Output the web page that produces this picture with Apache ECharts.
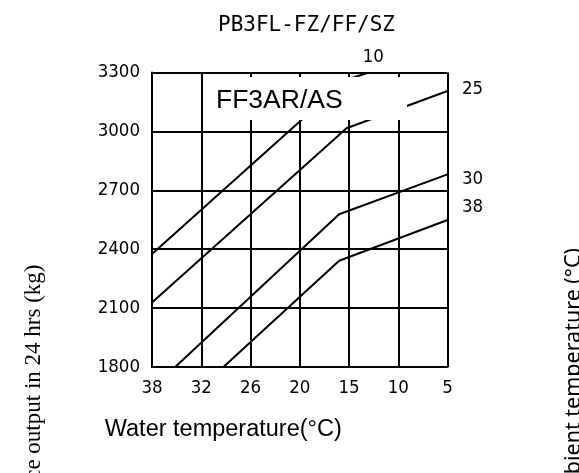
<!DOCTYPE html>
<html>
<head>
<meta charset="utf-8">
<script src="https://cdn.jsdelivr.net/npm/echarts@6/dist/echarts.min.js"></script>
<style>
  html, body { margin: 0; padding: 0; background: #fff; }
  #chart { width: 579px; height: 473px; }
</style>
</head>
<body>
<div id="chart"></div>
<script>
// x positions are grid columns: 0 = 38°C ... 6 = 5°C (scale is not uniform)
const waterTicks = ['38', '32', '26', '20', '15', '10', '5']

// ambient temperature curves: [column position, ice kg / 24h]
const amb10 = [[0, 2376], [3.94, 3262], [4.4, 3300]]
const amb25 = [[0, 2128], [3.95, 3016], [6, 3206]]
const amb30 = [[0.47, 1800], [3.8, 2578], [6, 2781]]
const amb38 = [[1.45, 1800], [3.8, 2341], [6, 2549]]

const ambNames = ['10', '25', '30', '38']
const ambData = [amb10, amb25, amb30, amb38]
// where each end label sits relative to the end of its line
const labelOffsets = [[-6, -15.5], [14.5, -2], [14.5, 4.5], [14.5, -13]]

const mono = '"DejaVu Sans Mono", monospace'
const narrow = '"DejaVu Sans Condensed", "DejaVu Sans", sans-serif'

const chart = echarts.init(document.getElementById('chart'))

chart.setOption({
    animation: false,
    backgroundColor: '#fff',
    title: {
        text: 'PB3FL-FZ/FF/SZ',
        left: 213,
        top: 10,
        textStyle: { fontFamily: mono, fontSize: 21, fontWeight: 'normal', color: '#000' }
    },
    grid: { left: 152, right: 131.5, top: 72.5, bottom: 106 },
    xAxis: {
        type: 'value',
        min: 0,
        max: 6,
        interval: 1,
        name: 'Water temperature(°C)',
        nameLocation: 'middle',
        nameGap: 51,
        nameTextStyle: {
            fontFamily: '"Liberation Sans", Arial, sans-serif',
            fontSize: 23.5,
            color: '#000',
            padding: [0, 153, 0, 0]
        },
        axisLine: { show: true, lineStyle: { color: '#000', width: 2 } },
        axisTick: { show: false },
        axisLabel: {
            margin: 12,
            fontFamily: narrow,
            fontSize: 18.5,
            color: '#000',
            formatter: v => waterTicks[v]
        },
        splitLine: { show: true, lineStyle: { color: '#000', width: 2 } }
    },
    yAxis: {
        type: 'value',
        min: 1800,
        max: 3300,
        interval: 300,
        axisLine: { show: true, lineStyle: { color: '#000', width: 2 } },
        axisTick: { show: false },
        axisLabel: {
            margin: 12,
            fontFamily: narrow,
            fontSize: 18.5,
            color: '#000',
            formatter: v => String(v)
        },
        splitLine: { show: true, lineStyle: { color: '#000', width: 2 } }
    },
    graphic: [
        {
            type: 'rect',
            z: 100,
            shape: { x: 204, y: 77, width: 203, height: 43 },
            style: { fill: '#fff' }
        },
        {
            type: 'text',
            z: 101,
            x: 216,
            y: 101,
            style: {
                text: 'FF3AR/AS',
                fontFamily: '"Liberation Sans", Arial, sans-serif',
                fontSize: 26.5,
                fill: '#000',
                verticalAlign: 'middle'
            }
        },
        {
            type: 'text',
            x: 34,
            y: 376,
            rotation: Math.PI / 2,
            style: {
                text: 'Ice output in 24 hrs (kg)',
                fontFamily: '"Liberation Serif", "Times New Roman", serif',
                fontSize: 23,
                fill: '#000',
                align: 'center',
                verticalAlign: 'middle'
            }
        },
        {
            type: 'text',
            x: 574,
            y: 378,
            rotation: Math.PI / 2,
            style: {
                text: 'Ambient temperature (°C)',
                fontFamily: '"Noto Sans", sans-serif',
                fontSize: 21.5,
                fill: '#000',
                align: 'center',
                verticalAlign: 'middle'
            }
        }
    ],
    series: ambData.map((data, i) => ({
        name: ambNames[i],
        type: 'line',
        data: data,
        symbol: 'none',
        lineStyle: { color: '#000', width: 2 },
        endLabel: {
            show: true,
            formatter: '{a}',
            distance: 0,
            offset: labelOffsets[i],
            fontFamily: narrow,
            fontSize: 18.5,
            color: '#000'
        }
    }))
})
</script>
</body>
</html>
